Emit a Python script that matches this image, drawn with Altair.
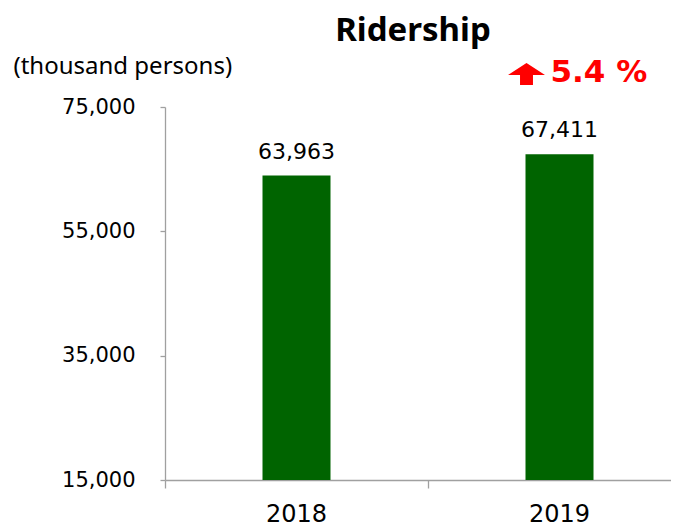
import altair as alt
import pandas as pd

years = ["2018", "2019"]
ridership = [63963, 67411]
y_ticks = [15000, 35000, 55000, 75000]
y_min, y_max = 15000, 75000

pct = round((ridership[1] / ridership[0] - 1) * 100, 1)
change_text = f"{pct} %"

df = pd.DataFrame({"year": years, "ridership": ridership})
df_last = pd.DataFrame({"year": [years[-1]], "label": [change_text]})

GRAY = "#a0a0a0"
GREEN = "#006400"
NUM_FONT = "DejaVu Sans"

x_enc = alt.X(
    "year:N",
    sort=years,
    scale=alt.Scale(range=[0, 526], paddingInner=0, paddingOuter=0),
    axis=alt.Axis(
        title=None, labelAngle=0, labelFont=NUM_FONT, labelFontSize=24,
        labelColor="black", tickSize=8, bandPosition=0, labelPadding=14,
        domainColor=GRAY, tickColor=GRAY, domainWidth=1.3, tickWidth=1.3,
    ),
)

y_enc = alt.Y(
    "ridership:Q",
    scale=alt.Scale(domain=[y_min, y_max], zero=False, nice=False),
    axis=alt.Axis(
        values=y_ticks, format=",d", formatType="number", grid=False,
        labelFont=NUM_FONT, labelFontSize=21, labelColor="black",
        tickSize=5, labelPadding=25, domainColor=GRAY, tickColor=GRAY,
        domainWidth=1.3, tickWidth=1.3,
        title="(thousand persons)", titleAngle=0, titleX=-152, titleY=-34,
        titleAlign="left", titleBaseline="alphabetic", titleFont="Noto Sans",
        titleFontSize=24, titleFontWeight="normal", titleColor="black",
    ),
)

bars = alt.Chart(df).mark_bar(size=68, color=GREEN).encode(
    x=x_enc,
    y=y_enc,
    y2=alt.datum(y_min),
)

labels = alt.Chart(df).mark_text(
    dy=-17, baseline="alphabetic", font=NUM_FONT, fontSize=22, color="black"
).encode(
    x=x_enc,
    y=y_enc,
    text=alt.Text("ridership:Q", format=","),
)

arrow_path = "M -1 0.05 L 0 -0.6 L 1 0.05 L 0.35 0.05 L 0.35 0.6 L -0.35 0.6 L -0.35 0.05 Z"
arrow = alt.Chart(df_last).mark_point(
    shape=arrow_path, filled=True, color="#ff0000", opacity=1, size=1369,
    xOffset=-33, strokeWidth=0,
).encode(
    x=x_enc,
    y=alt.value(-33),
)

change = alt.Chart(df_last).mark_text(
    align="left", baseline="alphabetic", font=NUM_FONT, fontWeight="bold",
    fontSize=31, color="#ff0000", dx=-9,
).encode(
    x=x_enc,
    y=alt.value(-25),
    text="label:N",
)

chart = (
    alt.layer(bars, labels, arrow, change)
    .properties(
        width=506,
        height=373,
        title=alt.Title(
            "Ridership", font="Noto Sans", fontSize=33, fontWeight="bold",
            color="black", anchor="middle", dx=-5, offset=6,
        ),
        autosize=alt.AutoSizeParams(type="none"),
        padding={"left": 157, "top": 99, "right": 0, "bottom": 46},
    )
    .configure(background="white", view=alt.ViewConfig(strokeWidth=0, stroke="transparent"))
)

chart.save("out.html", embed_options={"renderer": "svg", "actions": False})
